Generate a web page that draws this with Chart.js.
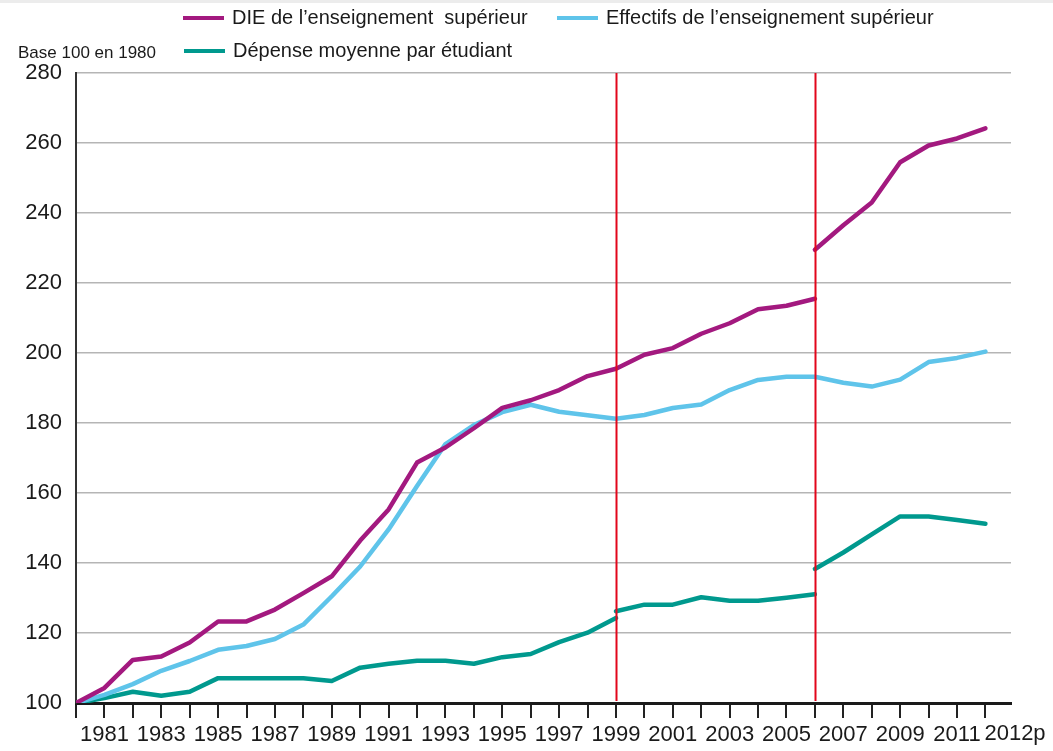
<!DOCTYPE html>
<html lang="fr">
<head>
<meta charset="utf-8">
<title>DIE de l'enseignement supérieur</title>
<script src="https://cdn.jsdelivr.net/npm/chart.js@4.4.1/dist/chart.umd.min.js"></script>
<style>
    html, body { margin: 0; padding: 0; background: #fff; }
    #chart { display: block; }
</style>
</head>
<body>
<canvas id="chart" width="1053" height="751"></canvas>
<script>
/* données (base 100 en 1980) */
const years = [1980, 1981, 1982, 1983, 1984, 1985, 1986, 1987, 1988, 1989, 1990,
    1991, 1992, 1993, 1994, 1995, 1996, 1997, 1998, 1999, 2000, 2001, 2002,
    2003, 2004, 2005, 2006, 2007, 2008, 2009, 2010, 2011, 2012];
const yTicks = [100, 120, 140, 160, 180, 200, 220, 240, 260, 280];
const breakYears = [1999, 2006];

// DIE : rupture de série en 2006
const dieOld = [100, 104.3, 112.3, 113.3, 117.3, 123.3, 123.3, 126.7, 131.4, 136.2, 146.4,
    155.3, 168.7, 173, 178.5, 184.3, 186.5, 189.4, 193.4, 195.5, 199.5, 201.4, 205.5,
    208.5, 212.5, 213.5, 215.5];            // 1980-2006
const dieNew = [229.5, 236.5, 243, 254.5, 259.3, 261.3, 264.2];   // 2006-2012

const effectifs = [100, 102.3, 105.4, 109.2, 112, 115.2, 116.3, 118.3, 122.4, 130.5, 139,
    149.6, 162, 174, 179.4, 183.1, 185.2, 183.2, 182.2, 181.2, 182.3, 184.3, 185.3,
    189.4, 192.3, 193.2, 193.2, 191.5, 190.4, 192.4, 197.4, 198.6, 200.4];  // 1980-2012

// dépense moyenne : ruptures en 1999 et 2006
const depA = [100, 101.4, 103.2, 102.1, 103.2, 107.1, 107.1, 107.1, 107.1, 106.3, 110.1,
    111.2, 112.1, 112.1, 111.2, 113.1, 114, 117.4, 120.1, 124.3];     // 1980-1999
const depB = [126.2, 128.1, 128.1, 130.2, 129.2, 129.2, 130.1, 131.1]; // 1999-2006
const depC = [138.3, 143, 148.2, 153.3, 153.3, 152.3, 151.2];         // 2006-2012

const labelDie = 'DIE de l\u2019enseignement  supérieur';
const labelEff = 'Effectifs de l\u2019enseignement supérieur';
const labelDep = 'Dépense moyenne par étudiant';

const colorDie = '#a3197f';
const colorEff = '#5fc4ea';
const colorDep = '#00998e';
const colorBreak = '#e2061b';

const textFont = '"Liberation Sans", Arial, sans-serif';

/* points {x, y} à partir d'une année de départ */
function seg(startYear, values) {
    const i0 = years.indexOf(startYear);
    return values.map((v, i) => ({ x: years[i0 + i], y: v }));
}

function line(label, color, data) {
    return {
        label: label,
        data: data,
        borderColor: color,
        backgroundColor: color,
        borderWidth: 4.5,
        borderCapStyle: 'round',
        borderJoinStyle: 'round',
        pointRadius: 0,
        tension: 0,
        fill: false
    };
}

/* légende dessinée à la main (2 lignes, alignée à gauche) */
const legendPlugin = {
    id: 'legendManual',
    beforeDraw(chart) {
        const ctx = chart.ctx;
        ctx.save();
        ctx.fillStyle = '#ececec';
        ctx.fillRect(0, 0, chart.width, 3);
        ctx.restore();
    },
    afterDraw(chart) {
        const ctx = chart.ctx;
        const items = [
            { ds: 0, x: 183, y: 18 },
            { ds: 2, x: 557, y: 18 },
            { ds: 3, x: 184, y: 51 }
        ];
        ctx.save();
        ctx.textBaseline = 'middle';
        items.forEach(it => {
            const ds = chart.data.datasets[it.ds];
            ctx.strokeStyle = ds.borderColor;
            ctx.lineWidth = 4;
            ctx.beginPath();
            ctx.moveTo(it.x, it.y);
            ctx.lineTo(it.x + 41, it.y);
            ctx.stroke();
            ctx.fillStyle = '#1a1a1a';
            ctx.font = '20px ' + textFont;
            ctx.textAlign = 'left';
            ctx.fillText(ds.label, it.x + 49, it.y);
        });
        ctx.font = '17px ' + textFont;
        ctx.fillText('Base 100 en 1980', 18, 53);

        // étiquette de la dernière année (provisoire)
        const xs = chart.scales.x;
        ctx.font = '22px ' + textFont;
        ctx.textBaseline = 'middle';
        ctx.fillText('2012p', xs.getPixelForValue(2012) - 1, chart.chartArea.bottom + 31);
        ctx.restore();
    }
};

/* ruptures de série */
const breakPlugin = {
    id: 'breakLines',
    afterDatasetsDraw(chart) {
        const ctx = chart.ctx;
        const area = chart.chartArea;
        const xs = chart.scales.x;
        ctx.save();
        ctx.strokeStyle = colorBreak;
        ctx.lineWidth = 2;
        breakYears.forEach(y => {
            const px = Math.round(xs.getPixelForValue(y)) + 0.5;
            ctx.beginPath();
            ctx.moveTo(px, area.top);
            ctx.lineTo(px, area.bottom - 2);
            ctx.stroke();
        });
        ctx.restore();
    }
};

new Chart(document.getElementById('chart'), {
    type: 'line',
    data: {
        datasets: [
            line(labelDie, colorDie, seg(1980, dieOld)),
            line(labelDie, colorDie, seg(2006, dieNew)),
            line(labelEff, colorEff, seg(1980, effectifs)),
            line(labelDep, colorDep, seg(1980, depA)),
            line(labelDep, colorDep, seg(1999, depB)),
            line(labelDep, colorDep, seg(2006, depC))
        ]
    },
    options: {
        responsive: false,
        devicePixelRatio: 1,
        animation: false,
        layout: { padding: { top: 73, right: 42, bottom: 0, left: 0 } },
        plugins: {
            legend: { display: false },
            tooltip: { enabled: false }
        },
        scales: {
            x: {
                type: 'linear',
                min: 1980,
                max: 2012.9,
                afterBuildTicks: s => { s.ticks = years.map(v => ({ value: v })); },
                afterFit: s => { s.height = 48; },
                border: { display: true, color: '#1a1a1a', width: 3 },
                grid: {
                    drawOnChartArea: false,
                    drawTicks: true,
                    tickLength: 15,
                    color: '#222',
                    lineWidth: 2
                },
                ticks: {
                    autoSkip: false,
                    maxRotation: 0,
                    padding: 4,
                    color: '#1a1a1a',
                    font: { family: textFont, size: 22 },
                    callback: v => (v % 2 === 1 && v < 2012) ? String(v) : ''
                }
            },
            y: {
                min: 100,
                max: 280,
                afterBuildTicks: s => { s.ticks = yTicks.map(v => ({ value: v })); },
                afterFit: s => { s.width = 76; },
                border: { display: true, color: '#333', width: 2 },
                grid: {
                    drawTicks: false,
                    color: '#b5b5b5',
                    lineWidth: 1.5
                },
                ticks: {
                    padding: 14,
                    color: '#1a1a1a',
                    font: { family: textFont, size: 22 }
                }
            }
        }
    },
    plugins: [legendPlugin, breakPlugin]
});
</script>
</body>
</html>
